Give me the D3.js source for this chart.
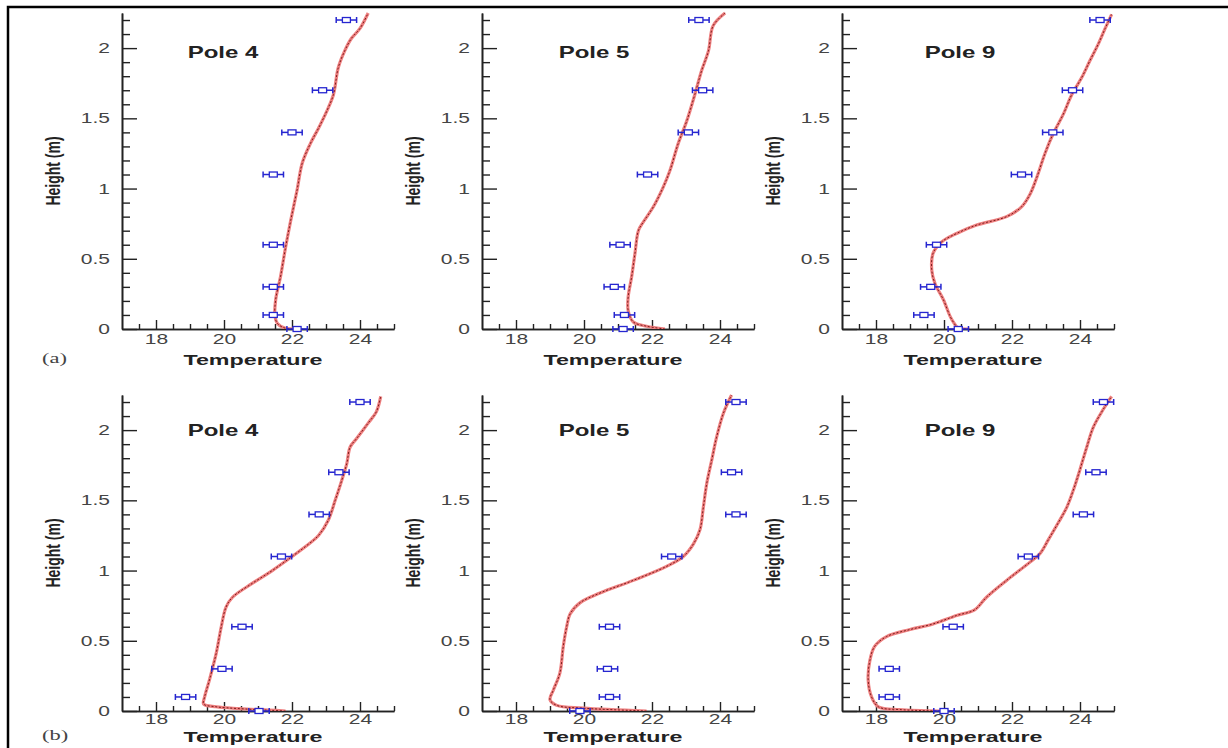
<!DOCTYPE html>
<html>
<head>
<meta charset="utf-8">
<script src="https://cdn.jsdelivr.net/npm/d3@7"></script>
<style>
  body { margin: 0; background: #fff; }
  svg { display: block; }
</style>
</head>
<body>
<div id="chart"></div>
<script>
// measurement heights (m), same for every pole
var heights = [0, 0.1, 0.3, 0.6, 1.1, 1.4, 1.7, 2.2];
var errHalf = 0.3;

// measured temperatures, row (a) and row (b)
var measA4 = [22.15, 21.45, 21.45, 21.45, 21.45, 22.0, 22.9, 23.6];
var measA5 = [21.15, 21.19, 20.89, 21.06, 21.87, 23.07, 23.49, 23.38];
var measA9 = [20.42, 19.41, 19.61, 19.78, 22.28, 23.2, 23.78, 24.59];
var measB4 = [21.03, 18.87, 19.94, 20.53, 21.69, 22.8, 23.38, 24.0];
var measB5 = [19.88, 20.75, 20.69, 20.75, 22.58, 24.47, 24.34, 24.47];
var measB9 = [20.0, 18.39, 18.39, 20.27, 22.48, 24.1, 24.47, 24.69];

// simulated profiles [temperature, height]
var simA4 = [[22.25,0],[21.81,0.005],[21.57,0.04],[21.5,0.09],[21.52,0.21],[21.66,0.37],[21.81,0.58],[21.96,0.77],
  [22.15,0.99],[22.3,1.18],[22.54,1.32],[22.78,1.43],[23.02,1.55],[23.22,1.67],[23.36,1.86],[23.55,1.98],
  [23.75,2.07],[24.0,2.14],[24.24,2.25]];
var simA5 = [[22.38,0],[21.84,0.02],[21.45,0.05],[21.3,0.13],[21.3,0.23],[21.4,0.37],[21.5,0.54],[21.6,0.70],
  [21.74,0.76],[22.04,0.87],[22.33,1.01],[22.53,1.13],[22.77,1.32],[23.02,1.48],[23.26,1.67],[23.46,1.84],
  [23.66,1.98],[23.8,2.16],[24.15,2.25]];
var simA9 = [[20.75,0],[20.4,0.01],[20.3,0.04],[20.18,0.09],[19.98,0.21],[19.74,0.32],[19.64,0.42],[19.68,0.54],
  [19.93,0.62],[20.37,0.68],[20.96,0.74],[21.84,0.80],[22.28,0.87],[22.53,0.96],[22.73,1.08],[22.97,1.25],
  [23.21,1.39],[23.51,1.53],[23.76,1.67],[24.05,1.79],[24.29,1.91],[24.54,2.03],[24.74,2.14],[24.93,2.24]];
var simB4 = [[21.81,0],[20.45,0.017],[19.77,0.03],[19.4,0.05],[19.43,0.10],[19.57,0.22],[19.77,0.41],[19.92,0.60],
  [20.06,0.74],[20.25,0.81],[20.84,0.91],[21.42,1.0],[22.0,1.10],[22.39,1.17],[22.78,1.25],[23.07,1.36],
  [23.27,1.50],[23.46,1.64],[23.61,1.76],[23.71,1.88],[23.9,1.94],[24.24,2.05],[24.48,2.13],[24.61,2.24]];
var simB5 = [[21.84,0],[19.98,0.02],[19.2,0.04],[19.0,0.08],[19.1,0.15],[19.29,0.27],[19.39,0.46],[19.49,0.60],
  [19.59,0.69],[19.88,0.77],[20.47,0.84],[21.45,0.93],[22.43,1.03],[22.92,1.10],[23.22,1.19],[23.41,1.29],
  [23.51,1.45],[23.61,1.62],[23.76,1.79],[23.9,1.95],[24.1,2.12],[24.34,2.25]];
var simB9 = [[19.88,0],[18.7,0.01],[18.07,0.03],[17.87,0.10],[17.77,0.22],[17.82,0.36],[17.96,0.46],[18.31,0.53],
  [19.0,0.58],[19.68,0.62],[20.37,0.68],[20.9,0.72],[21.25,0.81],[21.84,0.93],[22.53,1.06],[22.82,1.12],
  [23.07,1.22],[23.36,1.34],[23.61,1.45],[23.8,1.57],[24.0,1.72],[24.2,1.88],[24.39,2.02],[24.69,2.15],[24.93,2.24]];

var titles = ["Pole 4", "Pole 5", "Pole 9"];
var rowTags = ["(a)", "(b)"];
var xDomain = [17, 25], yDomain = [0, 2.25];
var xMajor = [18, 20, 22, 24];
var xMinor = d3.range(17.5, 25.01, 0.5).filter(function(v){ return v % 2 !== 0; });
var yMajor = [0, 0.5, 1, 1.5, 2];
var yMinor = d3.range(1, 23).map(function(i){ return i / 10; }).filter(function(v){ return Math.round(v * 10) % 5 !== 0; });

var panels = [
  {row: 0, col: 0, meas: measA4, sim: simA4},
  {row: 0, col: 1, meas: measA5, sim: simA5},
  {row: 0, col: 2, meas: measA9, sim: simA9},
  {row: 1, col: 0, meas: measB4, sim: simB4},
  {row: 1, col: 1, meas: measB5, sim: simB5},
  {row: 1, col: 2, meas: measB9, sim: simB9}
];

// layout
var colX = [122, 482, 842], rowY = [13, 395];
var pw = 272, ph = 316;
var titleDx = [101, 112, 118], titleDy = [45, 41];
var xLabelDy = [36, 31];
var xTickPad = [5, 3];
var stretch = 1.5;   // the figure is stretched horizontally
var sans = "'Liberation Sans', Arial, Helvetica, sans-serif";

var svg = d3.select("#chart").append("svg")
    .attr("width", 1228)
    .attr("height", 748);

svg.append("rect")
    .attr("x", 8).attr("y", 7)
    .attr("width", 1300).attr("height", 800)
    .attr("fill", "none").attr("stroke", "#000").attr("stroke-width", 2.5);

function styleAxis(sel){
  sel.select(".domain").attr("stroke", "#222").attr("stroke-width", 1.6);
  sel.selectAll(".tick line").attr("stroke", "#222").attr("stroke-width", 1.4);
  sel.selectAll(".tick text")
      .attr("fill", "#444")
      .style("font-family", sans)
      .style("font-size", "14px");
}

panels.forEach(function(p){
  var g = svg.append("g")
      .attr("transform", "translate(" + colX[p.col] + "," + rowY[p.row] + ")");

  var x = d3.scaleLinear().domain(xDomain).range([0, pw]);
  var y = d3.scaleLinear().domain(yDomain).range([ph, 0]);

  var clipId = "clip" + p.row + p.col;
  g.append("clipPath").attr("id", clipId)
    .append("rect").attr("x", 0).attr("y", -2).attr("width", pw + 4).attr("height", ph + 2);

  // minor ticks
  g.append("g").call(d3.axisLeft(y).tickValues(yMinor).tickSize(-8).tickSizeOuter(0).tickFormat(""))
      .call(styleAxis);
  g.append("g").attr("transform", "translate(0," + ph + ")")
      .call(d3.axisBottom(x).tickValues(xMinor).tickSize(-5).tickSizeOuter(0).tickFormat(""))
      .call(styleAxis);

  // major ticks with labels
  var ya = g.append("g")
      .call(d3.axisLeft(y).tickValues(yMajor).tickSize(-15).tickSizeOuter(0).tickPadding(12)
        .tickFormat(d3.format("~g")))
      .call(styleAxis);
  ya.selectAll(".tick text").attr("x", -12 / stretch).attr("transform", "scale(" + stretch + ",1)");

  var xa = g.append("g").attr("transform", "translate(0," + ph + ")")
      .call(d3.axisBottom(x).tickValues(xMajor).tickSize(-9).tickSizeOuter(0).tickPadding(xTickPad[p.row])
        .tickFormat(d3.format("~g")))
      .call(styleAxis);
  xa.selectAll(".tick text").attr("transform", "scale(" + stretch + ",1)");

  // simulated profile
  var line = d3.line()
      .curve(d3.curveCatmullRom.alpha(0.5))
      .x(function(d){ return x(d[0]); })
      .y(function(d){ return y(d[1]); });
  var lg = g.append("g").attr("clip-path", "url(#" + clipId + ")");
  lg.append("path").datum(p.sim)
      .attr("fill", "none").attr("stroke", "#ee8080").attr("stroke-width", 3.2)
      .attr("d", line);
  lg.append("path").datum(p.sim)
      .attr("fill", "none").attr("stroke", "#7a1c1c").attr("stroke-width", 1)
      .attr("stroke-dasharray", "2,1.8")
      .attr("d", line);

  // measured points with error bars
  var pts = heights.map(function(h, i){ return {h: h, t: p.meas[i]}; });
  var eb = g.selectAll(".eb").data(pts).enter().append("g").attr("class", "eb");
  var blue = "#2626d0";
  eb.append("line")
      .attr("x1", function(d){ return x(d.t - errHalf); })
      .attr("x2", function(d){ return x(d.t + errHalf); })
      .attr("y1", function(d){ return y(d.h); })
      .attr("y2", function(d){ return y(d.h); })
      .attr("stroke", blue).attr("stroke-width", 1.5);
  [-errHalf, errHalf].forEach(function(off){
    eb.append("line")
        .attr("x1", function(d){ return x(d.t + off); })
        .attr("x2", function(d){ return x(d.t + off); })
        .attr("y1", function(d){ return y(d.h) - 3; })
        .attr("y2", function(d){ return y(d.h) + 3; })
        .attr("stroke", blue).attr("stroke-width", 1.5);
  });
  eb.append("rect")
      .attr("x", function(d){ return x(d.t) - 4; })
      .attr("y", function(d){ return y(d.h) - 2.5; })
      .attr("width", 8).attr("height", 5)
      .attr("fill", "#fff").attr("stroke", blue).attr("stroke-width", 1.3);

  // texts
  g.append("text")
      .attr("transform", "translate(" + titleDx[p.col] + "," + titleDy[p.row] + ") scale(" + stretch + ",1)")
      .attr("text-anchor", "middle")
      .style("font-family", sans).style("font-size", "16px").style("font-weight", "bold")
      .attr("fill", "#222")
      .text(titles[p.col]);

  g.append("text")
      .attr("transform", "translate(" + (pw / 2 - 5) + "," + (ph + xLabelDy[p.row]) + ") scale(" + stretch + ",1)")
      .attr("text-anchor", "middle")
      .style("font-family", sans).style("font-size", "15.5px").style("font-weight", "bold")
      .attr("fill", "#222")
      .text("Temperature");

  g.append("text")
      .attr("transform", "translate(-62," + (ph / 2) + ") scale(" + stretch + ",1) rotate(-90)")
      .attr("text-anchor", "middle")
      .style("font-family", sans).style("font-size", "14px").style("font-weight", "bold")
      .attr("fill", "#222")
      .text("Height (m)");

  if (p.col === 0) {
    g.append("text")
        .attr("transform", "translate(-80," + (ph + xLabelDy[p.row] - 2) + ") scale(" + stretch + ",1)")
        .style("font-family", "'Liberation Serif', 'Times New Roman', serif").style("font-size", "15px")
        .attr("fill", "#444")
        .text(rowTags[p.row]);
  }
});
</script>
</body>
</html>
